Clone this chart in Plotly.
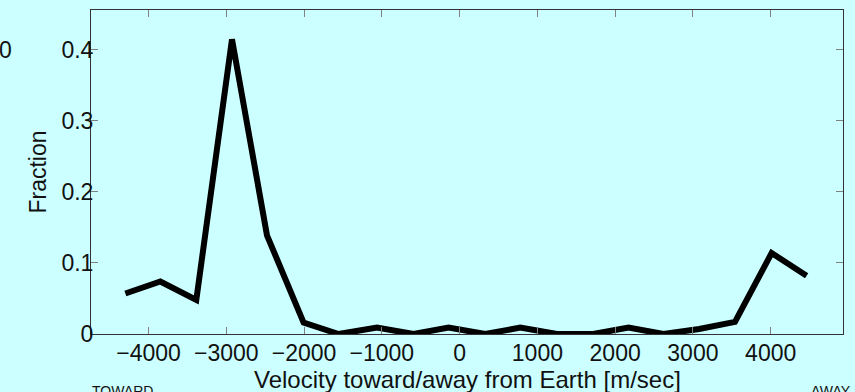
import plotly.graph_objects as go

velocity = [-4298, -3848, -3386, -2927, -2477, -2006, -1556, -1063, -592, -142,
            330, 780, 1251, 1718, 2172, 2622, 3080, 3541, 4012, 4462]
fraction = [0.057, 0.074, 0.048, 0.415, 0.139, 0.016, 0.0, 0.009, 0.0, 0.009,
            0.0, 0.009, 0.0, 0.0, 0.009, 0.0, 0.007, 0.017, 0.114, 0.082]
x_ticks = [-4000, -3000, -2000, -1000, 0, 1000, 2000, 3000, 4000]
x_tick_text = ["\u22124000", "\u22123000", "\u22122000", "\u22121000", "0", "1000", "2000", "3000", "4000"]
y_ticks = [0, 0.1, 0.2, 0.3, 0.4]
y_tick_text = ["0", "0.1", "0.2", "0.3", "0.4"]

BG = "#CCFFFF"
FONT = "Liberation Sans, Arial, Helvetica, sans-serif"

fig = go.Figure()
fig.add_trace(go.Scatter(x=velocity, y=fraction, mode="lines",
                         line=dict(color="black", width=6), hoverinfo="skip"))

L, R, T, B = 91, 12, 10, 58
W, H = 855, 392
pw = W - L - R
ph = H - T - B

fig.update_layout(
    width=W, height=H,
    margin=dict(l=L, r=R, t=T, b=B, pad=0),
    paper_bgcolor=BG, plot_bgcolor=BG,
    showlegend=False,
    font=dict(family=FONT, size=23, color="#111111"),
    xaxis=dict(range=[-4740, 4930], tickvals=x_ticks, ticktext=x_tick_text,
               ticks="inside", ticklen=7, tickwidth=1, tickcolor="#808080",
               showline=True, linecolor="#333333", linewidth=1, mirror="ticks",
               showgrid=False, zeroline=False, tickfont=dict(size=23),
               ticklabelstandoff=-2, automargin=False,
               title=dict(text="")),
    yaxis=dict(range=[0, 0.4563], tickvals=y_ticks, ticktext=y_tick_text,
               ticks="inside", ticklen=7, tickwidth=1, tickcolor="#808080",
               showline=True, linecolor="#333333", linewidth=1, mirror="ticks",
               showgrid=False, zeroline=False, tickfont=dict(size=23),
               ticklabelstandoff=-8, automargin=False,
               title=dict(text="Fraction", standoff=8, font=dict(size=23))),
)

fig.add_annotation(text="Velocity toward/away from Earth [m/sec]", xref="paper", yref="paper",
                   x=(467 - L) / pw, y=(H - B - 379) / ph, xanchor="center", yanchor="middle",
                   showarrow=False, font=dict(size=24, family=FONT))
fig.add_annotation(text="0", xref="paper", yref="paper",
                   x=(14 - L) / pw, y=(H - B - 50) / ph, xanchor="right", yanchor="middle",
                   showarrow=False, font=dict(size=23, family=FONT))
fig.add_annotation(text="TOWARD", xref="paper", yref="paper",
                   x=(90 - L) / pw, y=(H - B - 381) / ph, xanchor="left", yanchor="top",
                   showarrow=False, font=dict(size=14, family=FONT))
fig.add_annotation(text="AWAY", xref="paper", yref="paper",
                   x=(809 - L) / pw, y=(H - B - 381) / ph, xanchor="left", yanchor="top",
                   showarrow=False, font=dict(size=14, family=FONT))

fig.write_html("out.html")
